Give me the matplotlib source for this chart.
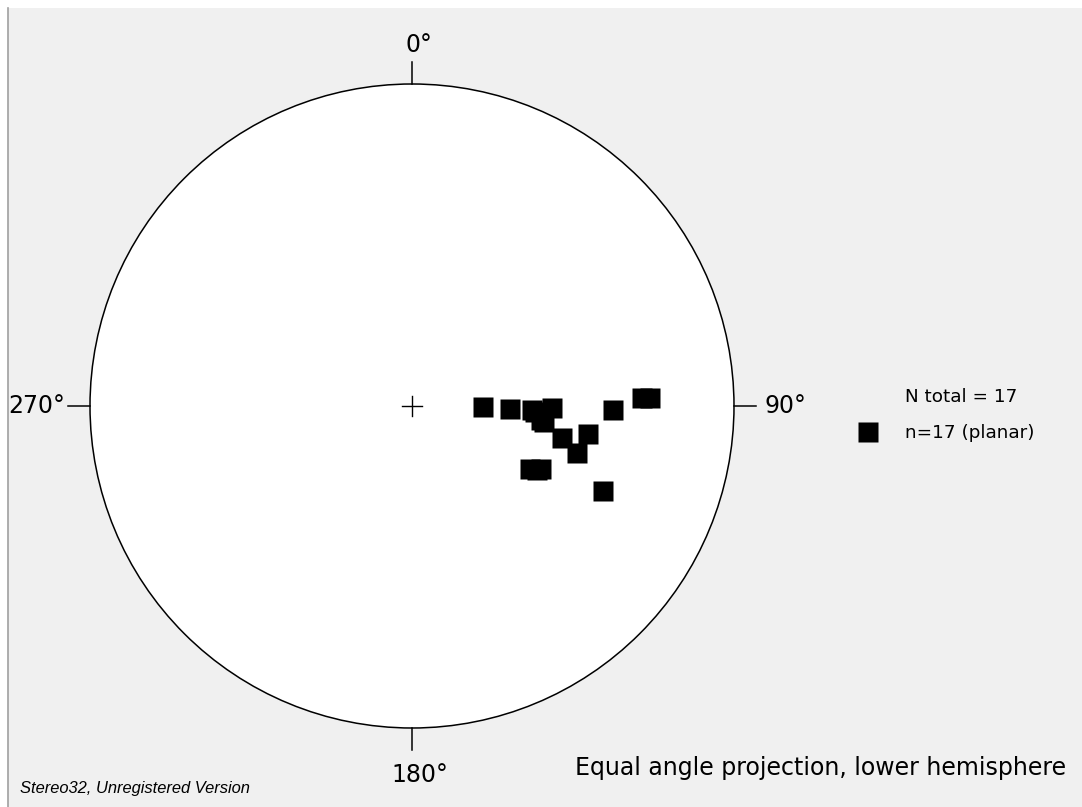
import numpy as np
import matplotlib
matplotlib.use("Agg")
import matplotlib.pyplot as plt
from matplotlib.patches import Circle, Rectangle

# poles to planes (trend, plunge in degrees)
trend = [91, 92, 92, 91, 96, 102, 99, 106, 91, 88, 88, 118, 116, 114, 93, 117, 97]
plunge = [65, 56, 49, 43, 46, 39, 32, 34, 26, 19, 17, 45, 42, 24, 48, 43, 45]

dir_labels = ["0°", "90°", "180°", "270°"]
dir_angles = [0, 90, 180, 270]

n_total = len(trend)
title = "Equal angle projection, lower hemisphere"
stamp = "Stereo32, Unregistered Version"

# equal angle (stereographic) projection, north up
t = np.radians(trend)
r = np.tan(np.radians(90 - np.array(plunge)) / 2)
xs = r * np.sin(t)
ys = r * np.cos(t)

W, H = 1082, 807
cx, cy, R = 412, 406, 322
fig = plt.figure(figsize=(W / 100, H / 100), dpi=100, facecolor="white")
ax = fig.add_axes([0, 0, 1, 1])
ax.set_xlim(-cx / R, (W - cx) / R)
ax.set_ylim((cy - H) / R, cy / R)
ax.axis("off")

# window background
ax.add_patch(Rectangle((-(cx - 8) / R, (cy - H) / R), (W - 8) / R, (H - 8) / R,
                       facecolor="#f0f0f0", edgecolor="none", zorder=0))
ax.plot([-(cx - 8) / R] * 2, [(cy - H) / R, (cy - 8) / R], color="#a0a0a0", lw=1.2, zorder=1)

ax.add_patch(Circle((0, 0), 1, facecolor="white", edgecolor="black", lw=1.1, zorder=2))
ax.plot([-0.03, 0.03], [0, 0], color="black", lw=1, zorder=3)
ax.plot([0, 0], [-0.03, 0.03], color="black", lw=1, zorder=3)

tick = 22 / R
for lab, a in zip(dir_labels, dir_angles):
    s, c = np.sin(np.radians(a)), np.cos(np.radians(a))
    ax.plot([s, s * (1 + tick)], [c, c * (1 + tick)], color="black", lw=1.1, zorder=3)
    if a == 0:
        ax.text(7 / R, 1.121, lab, ha="center", va="center", fontsize=17)
    elif a == 90:
        ax.text(1.096, 0, lab, ha="left", va="center", fontsize=17)
    elif a == 180:
        ax.text(8 / R, -1.146, lab, ha="center", va="center", fontsize=17)
    else:
        ax.text(-1.078, 0, lab, ha="right", va="center", fontsize=17)

ax.plot(xs, ys, "s", color="black", ms=14.4, mec="none", zorder=4)

# legend
ax.text((905 - cx) / R, (cy - 397) / R, "N total = %d" % n_total, ha="left", va="center", fontsize=13.2)
ax.plot([(868 - cx) / R], [(cy - 432) / R], "s", color="black", ms=14.4, mec="none")
ax.text((905 - cx) / R, (cy - 433) / R, "n=%d (planar)" % n_total, ha="left", va="center", fontsize=13.2)

ax.text((1066 - cx) / R, (cy - 768) / R, title, ha="right", va="center", fontsize=17)
ax.text((20 - cx) / R, (cy - 788) / R, stamp, ha="left", va="center", fontsize=11.9, style="italic",
        family="Liberation Sans")

fig.savefig("out.png", dpi=100, facecolor=fig.get_facecolor())
